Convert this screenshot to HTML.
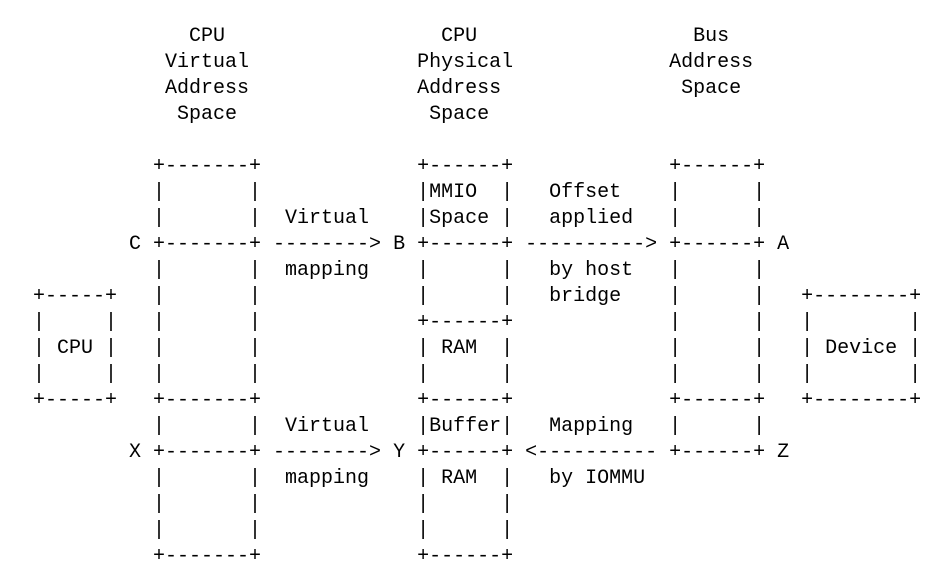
<!DOCTYPE html>
<html><head><meta charset="utf-8"><style>
html,body{margin:0;padding:0;background:#fff;width:934px;height:569px;overflow:hidden}
pre{position:absolute;left:9px;top:24px;margin:0;font-family:"Liberation Mono","DejaVu Sans Mono",monospace;font-size:20px;line-height:26px;color:#000;white-space:pre}
</style></head><body><pre>               CPU                  CPU                  Bus
             Virtual              Physical             Address
             Address              Address               Space
              Space                Space

            +-------+             +------+             +------+
            |       |             |MMIO  |   Offset    |      |
            |       |  Virtual    |Space |   applied   |      |
          C +-------+ --------> B +------+ ----------> +------+ A
            |       |  mapping    |      |   by host   |      |
  +-----+   |       |             |      |   bridge    |      |   +--------+
  |     |   |       |             +------+             |      |   |        |
  | CPU |   |       |             | RAM  |             |      |   | Device |
  |     |   |       |             |      |             |      |   |        |
  +-----+   +-------+             +------+             +------+   +--------+
            |       |  Virtual    |Buffer|   Mapping   |      |
          X +-------+ --------> Y +------+ <---------- +------+ Z
            |       |  mapping    | RAM  |   by IOMMU
            |       |             |      |
            |       |             |      |
            +-------+             +------+</pre></body></html>
